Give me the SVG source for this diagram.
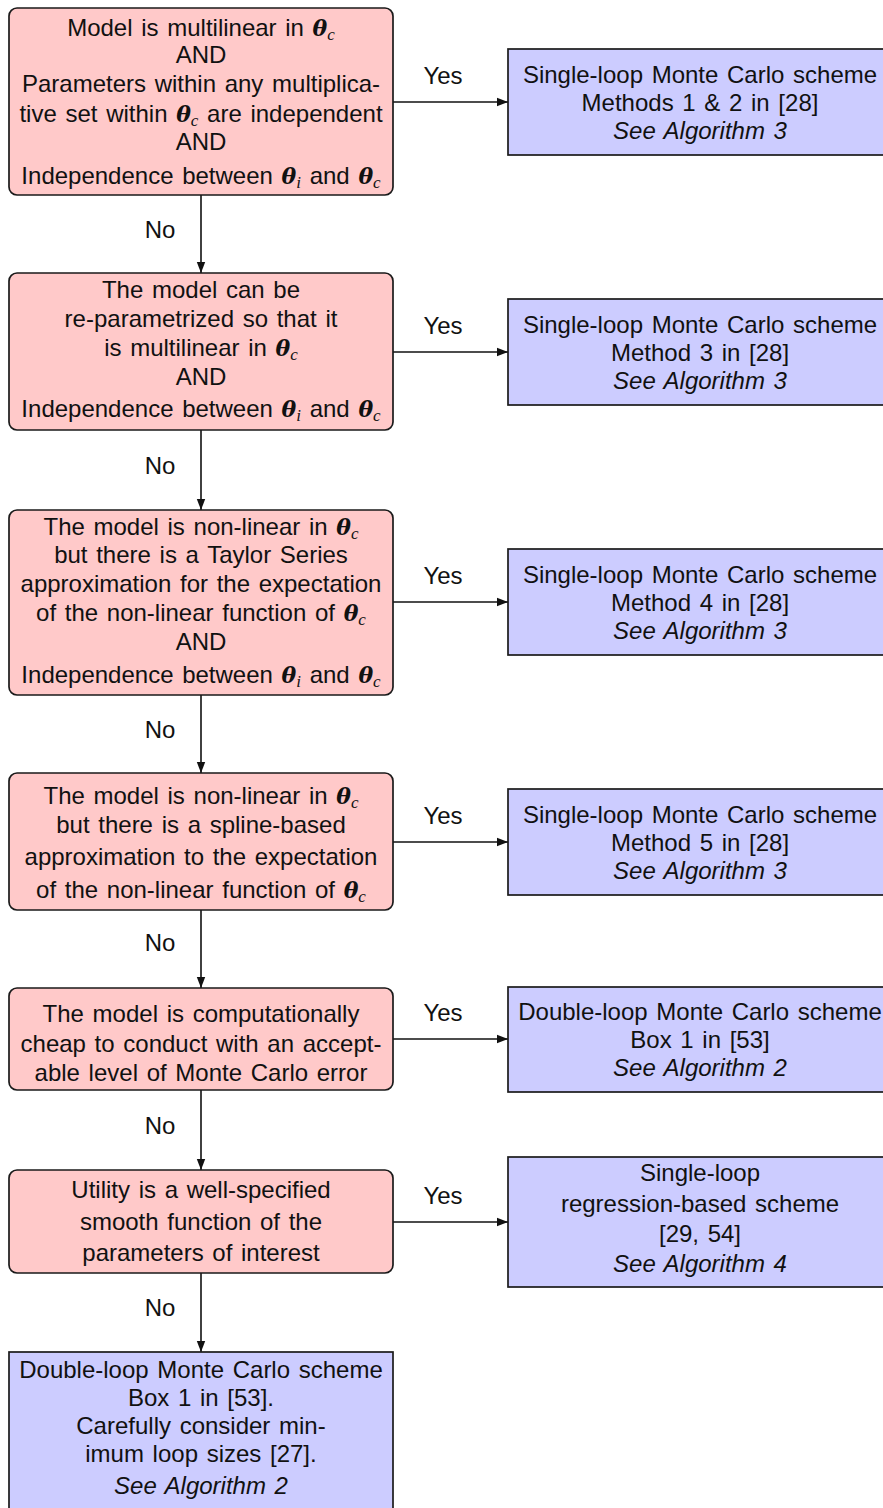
<svg xmlns="http://www.w3.org/2000/svg" width="883" height="1508" viewBox="0 0 883 1508">
<style>
text{font-family:"Liberation Sans",Arial,Helvetica,sans-serif;font-size:24px;word-spacing:2px;fill:#111;text-anchor:middle}
.it{font-style:italic}
.th{font-family:"DejaVu Serif","Liberation Serif",serif;font-weight:bold;font-style:italic;font-size:22px}
.sb{font-family:"Liberation Serif","DejaVu Serif",serif;font-style:italic;font-size:17px}
.red{fill:#FFC9C9;stroke:#1a1a1a;stroke-width:1.7}
.blue{fill:#CCCCFF;stroke:#1a1a1a;stroke-width:1.7}
.edge{stroke:#111;stroke-width:1.6;fill:none;marker-end:url(#ah)}
</style>
<defs>
<marker id="ah" markerUnits="userSpaceOnUse" markerWidth="12" markerHeight="10" viewBox="0 0 12 10" refX="11" refY="5" orient="auto">
<path d="M0,0.8 L11,5 L0,9.2 Z" fill="#111"/>
</marker>
</defs>

<g id="connectors">
<path class="edge" d="M201,195 V273"/>
<path class="edge" d="M201,430 V510"/>
<path class="edge" d="M201,695 V773"/>
<path class="edge" d="M201,910 V988"/>
<path class="edge" d="M201,1090 V1170"/>
<path class="edge" d="M201,1273 V1352"/>
<path class="edge" d="M393,102 H508"/>
<path class="edge" d="M393,352 H508"/>
<path class="edge" d="M393,602 H508"/>
<path class="edge" d="M393,842 H508"/>
<path class="edge" d="M393,1039 H508"/>
<path class="edge" d="M393,1222 H508"/>
<text x="160" y="238">No</text>
<text x="160" y="474">No</text>
<text x="160" y="738">No</text>
<text x="160" y="951">No</text>
<text x="160" y="1134">No</text>
<text x="160" y="1316">No</text>
<text x="443" y="84">Yes</text>
<text x="443" y="334">Yes</text>
<text x="443" y="584">Yes</text>
<text x="443" y="824">Yes</text>
<text x="443" y="1021">Yes</text>
<text x="443" y="1204">Yes</text>
</g>

<g id="q1">
<rect class="red" x="9" y="8" width="384" height="187" rx="8"/>
<text x="201" y="36">Model is multilinear in <tspan class="th">θ</tspan><tspan class="sb" dy="4">c</tspan></text>
<text x="201" y="63">AND</text>
<text x="201" y="92">Parameters within any multiplica-</text>
<text x="201" y="122">tive set within <tspan class="th">θ</tspan><tspan class="sb" dy="4">c</tspan><tspan dy="-4"> are independent</tspan></text>
<text x="201" y="150">AND</text>
<text x="201" y="184">Independence between <tspan class="th">θ</tspan><tspan class="sb" dy="4">i</tspan><tspan dy="-4"> and </tspan><tspan class="th">θ</tspan><tspan class="sb" dy="4">c</tspan></text>
</g>

<g id="a1">
<rect class="blue" x="508" y="49" width="384" height="106"/>
<text x="700" y="83">Single-loop Monte Carlo scheme</text>
<text x="700" y="111">Methods 1 &amp; 2 in [28]</text>
<text x="700" y="139" class="it">See Algorithm 3</text>
</g>

<g id="q2">
<rect class="red" x="9" y="273" width="384" height="157" rx="8"/>
<text x="201" y="298">The model can be</text>
<text x="201" y="327">re-parametrized so that it</text>
<text x="201" y="356">is multilinear in <tspan class="th">θ</tspan><tspan class="sb" dy="4">c</tspan></text>
<text x="201" y="385">AND</text>
<text x="201" y="417">Independence between <tspan class="th">θ</tspan><tspan class="sb" dy="4">i</tspan><tspan dy="-4"> and </tspan><tspan class="th">θ</tspan><tspan class="sb" dy="4">c</tspan></text>
</g>

<g id="a2">
<rect class="blue" x="508" y="299" width="384" height="106"/>
<text x="700" y="333">Single-loop Monte Carlo scheme</text>
<text x="700" y="361">Method 3 in [28]</text>
<text x="700" y="389" class="it">See Algorithm 3</text>
</g>

<g id="q3">
<rect class="red" x="9" y="510" width="384" height="185" rx="8"/>
<text x="201" y="535">The model is non-linear in <tspan class="th">θ</tspan><tspan class="sb" dy="4">c</tspan></text>
<text x="201" y="563">but there is a Taylor Series</text>
<text x="201" y="592">approximation for the expectation</text>
<text x="201" y="621">of the non-linear function of <tspan class="th">θ</tspan><tspan class="sb" dy="4">c</tspan></text>
<text x="201" y="650">AND</text>
<text x="201" y="683">Independence between <tspan class="th">θ</tspan><tspan class="sb" dy="4">i</tspan><tspan dy="-4"> and </tspan><tspan class="th">θ</tspan><tspan class="sb" dy="4">c</tspan></text>
</g>

<g id="a3">
<rect class="blue" x="508" y="549" width="384" height="106"/>
<text x="700" y="583">Single-loop Monte Carlo scheme</text>
<text x="700" y="611">Method 4 in [28]</text>
<text x="700" y="639" class="it">See Algorithm 3</text>
</g>

<g id="q4">
<rect class="red" x="9" y="773" width="384" height="137" rx="8"/>
<text x="201" y="804">The model is non-linear in <tspan class="th">θ</tspan><tspan class="sb" dy="4">c</tspan></text>
<text x="201" y="833">but there is a spline-based</text>
<text x="201" y="865">approximation to the expectation</text>
<text x="201" y="898">of the non-linear function of <tspan class="th">θ</tspan><tspan class="sb" dy="4">c</tspan></text>
</g>

<g id="a4">
<rect class="blue" x="508" y="789" width="384" height="106"/>
<text x="700" y="823">Single-loop Monte Carlo scheme</text>
<text x="700" y="851">Method 5 in [28]</text>
<text x="700" y="879" class="it">See Algorithm 3</text>
</g>

<g id="q5">
<rect class="red" x="9" y="988" width="384" height="102" rx="8"/>
<text x="201" y="1022">The model is computationally</text>
<text x="201" y="1052">cheap to conduct with an accept-</text>
<text x="201" y="1081">able level of Monte Carlo error</text>
</g>

<g id="a5">
<rect class="blue" x="508" y="987" width="384" height="105"/>
<text x="700" y="1020">Double-loop Monte Carlo scheme</text>
<text x="700" y="1048">Box 1 in [53]</text>
<text x="700" y="1076" class="it">See Algorithm 2</text>
</g>

<g id="q6">
<rect class="red" x="9" y="1170" width="384" height="103" rx="8"/>
<text x="201" y="1198">Utility is a well-specified</text>
<text x="201" y="1230">smooth function of the</text>
<text x="201" y="1261">parameters of interest</text>
</g>

<g id="a6">
<rect class="blue" x="508" y="1157" width="384" height="130"/>
<text x="700" y="1181">Single-loop</text>
<text x="700" y="1212">regression-based scheme</text>
<text x="700" y="1242">[29, 54]</text>
<text x="700" y="1272" class="it">See Algorithm 4</text>
</g>

<g id="a7">
<rect class="blue" x="9" y="1352" width="384" height="180"/>
<text x="201" y="1378">Double-loop Monte Carlo scheme</text>
<text x="201" y="1406">Box 1 in [53].</text>
<text x="201" y="1434">Carefully consider min-</text>
<text x="201" y="1462">imum loop sizes [27].</text>
<text x="201" y="1494" class="it">See Algorithm 2</text>
</g>
</svg>
